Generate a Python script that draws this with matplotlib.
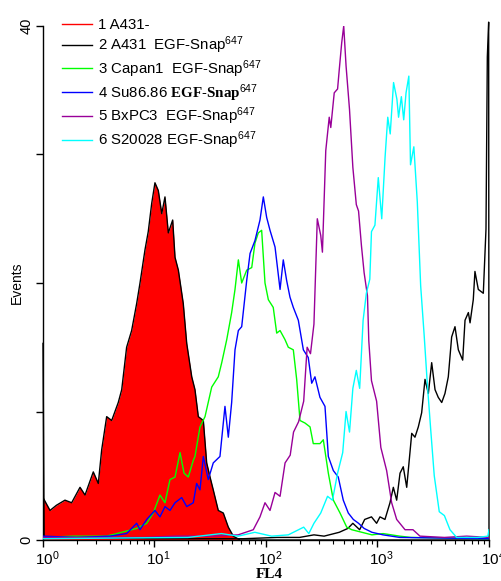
import numpy as np
import matplotlib
matplotlib.use("Agg")
from matplotlib import pyplot as plt
from matplotlib.lines import Line2D
from matplotlib.transforms import ScaledTranslation

plt.rcParams['font.family'] = ['Liberation Sans', 'DejaVu Sans']
plt.rcParams['mathtext.fontset'] = 'custom'
plt.rcParams['mathtext.rm'] = 'Liberation Sans'
plt.rcParams['mathtext.bf'] = 'Liberation Serif:bold'
plt.rcParams['mathtext.default'] = 'regular'

# histogram outlines: channel position in decades (log10 FL4) and events
red_log = [0.0, 0.063, 0.12, 0.197, 0.257, 0.332, 0.377, 0.451, 0.496, 0.526, 0.571, 0.616, 0.675,
           0.706, 0.75, 0.795, 0.84, 0.87, 0.915, 0.944, 0.975, 1.004, 1.034, 1.065, 1.094, 1.124,
           1.163, 1.184, 1.214, 1.258, 1.289, 1.334, 1.363, 1.393, 1.438, 1.468, 1.498, 1.527,
           1.572, 1.617, 1.662, 1.707, 1.767, 4.0]
red_ev = [3.3, 2.3, 2.7, 3.1, 2.9, 4.1, 3.5, 5.3, 4.4, 7.0, 9.6, 9.3, 10.7,
          11.7, 15.0, 16.3, 18.4, 20.0, 22.6, 24.0, 26.2, 27.8, 27.2, 25.4, 26.7, 23.9,
          24.9, 22.0, 21.0, 18.4, 15.3, 12.7, 11.7, 9.6, 9.3, 6.0, 4.9, 3.9,
          2.3, 2.1, 1.0, 0.3, 0.0, 0.0]

black_log = [0.0, 0.01, 1.0, 1.8, 2.1, 2.3, 2.43, 2.521, 2.657, 2.734, 2.779, 2.84, 2.885, 2.946,
             2.992, 3.022, 3.067, 3.112, 3.142, 3.172, 3.202, 3.231, 3.262, 3.291, 3.307, 3.336,
             3.366, 3.396, 3.426, 3.456, 3.486, 3.516, 3.545, 3.576, 3.605, 3.635, 3.665, 3.695,
             3.725, 3.764, 3.785, 3.815, 3.83, 3.859, 3.874, 3.904, 3.949, 3.973, 3.985, 3.997, 4.0]
black_ev = [15.3, 0.2, 0.1, 0.1, 0.2, 0.2, 0.4, 0.3, 0.6, 0.9, 1.3, 0.8, 1.6, 1.8,
            1.3, 1.8, 1.6, 2.9, 4.1, 3.1, 5.2, 5.7, 4.1, 6.8, 8.3, 8.0,
            8.8, 9.9, 12.5, 11.4, 13.8, 11.7, 11.1, 10.7, 11.4, 12.7, 15.8, 16.6,
            14.8, 14.0, 17.1, 17.7, 16.9, 18.7, 20.9, 19.5, 19.2, 24.2, 37.6, 40.3, 0.0]

green_log = [0.0, 0.272, 0.571, 0.661, 0.84, 0.93, 0.989, 1.049, 1.094, 1.139, 1.184, 1.229, 1.265,
             1.303, 1.348, 1.363, 1.408, 1.453, 1.513, 1.572, 1.603, 1.648, 1.692, 1.722, 1.752,
             1.782, 1.827, 1.872, 1.901, 1.931, 1.961, 1.991, 2.021, 2.065, 2.096, 2.126, 2.17,
             2.2, 2.245, 2.275, 2.305, 2.35, 2.395, 2.424, 2.484, 2.514, 2.559, 2.604, 2.664,
             2.724, 2.769, 2.86, 2.95, 3.05, 3.2, 3.3, 4.0]
green_ev = [0.2, 0.3, 0.3, 0.5, 0.9, 1.3, 2.1, 3.5, 2.9, 4.7, 4.9, 6.8, 5.2,
            4.9, 6.2, 6.5, 8.8, 9.6, 11.9, 12.7, 13.8, 15.6, 17.7, 19.5, 21.8,
            20.0, 21.0, 21.2, 23.1, 23.9, 24.1, 20.0, 18.7, 18.1, 16.1, 16.3, 15.6,
            15.0, 14.8, 12.5, 9.3, 9.1, 8.8, 7.5, 7.5, 7.8, 5.2, 3.1, 2.1,
            1.0, 0.8, 0.6, 0.4, 0.5, 0.3, 0.2, 0.1]

blue_log = [0.0, 0.3, 0.6, 0.75, 0.84, 0.87, 0.93, 1.004, 1.049, 1.094, 1.139, 1.184, 1.244, 1.289,
            1.348, 1.378, 1.408, 1.438, 1.482, 1.527, 1.587, 1.632, 1.662, 1.692, 1.722, 1.752,
            1.782, 1.827, 1.857, 1.901, 1.946, 1.976, 2.006, 2.036, 2.081, 2.126, 2.155, 2.185,
            2.215, 2.245, 2.29, 2.335, 2.379, 2.41, 2.439, 2.484, 2.529, 2.559, 2.604, 2.648,
            2.693, 2.738, 2.783, 2.83, 2.88, 2.95, 3.0, 3.05, 3.2, 4.0]
blue_ev = [0.3, 0.2, 0.3, 0.5, 1.3, 0.8, 1.6, 2.3, 1.8, 2.6, 2.3, 2.9, 3.3, 2.6,
           2.9, 4.4, 3.9, 6.5, 4.7, 6.0, 6.5, 10.4, 8.0, 10.7, 14.8, 16.3,
           16.6, 20.2, 22.3, 23.3, 24.9, 26.7, 25.1, 24.1, 22.8, 19.5, 21.8, 20.2,
           18.9, 18.1, 17.1, 14.8, 14.2, 12.2, 12.7, 11.1, 10.4, 6.5, 5.4, 4.9,
           3.1, 2.1, 1.6, 1.3, 0.9, 0.6, 0.5, 0.4, 0.2, 0.1]

purple_log = [0.0, 0.9, 1.2, 1.5, 1.75, 1.886, 1.946, 1.991, 2.036, 2.081, 2.126, 2.171, 2.217,
              2.247, 2.292, 2.338, 2.369, 2.399, 2.43, 2.46, 2.491, 2.506, 2.536, 2.567, 2.581,
              2.612, 2.642, 2.657, 2.679, 2.697, 2.718, 2.749, 2.779, 2.81, 2.83, 2.856, 2.88,
              2.91, 2.922, 2.946, 2.992, 3.03, 3.082, 3.127, 3.172, 3.247, 3.318, 3.381, 3.6,
              3.8, 4.0]
purple_ev = [0.2, 0.2, 0.3, 0.3, 0.4, 0.8, 1.8, 2.9, 2.3, 3.7, 3.4, 6.0, 6.6,
             8.4, 9.2, 10.8, 15.0, 14.5, 16.8, 25.0, 23.7, 22.4, 30.3, 32.9, 32.1,
             34.8, 35.1, 36.6, 38.7, 40.0, 36.9, 33.5, 29.0, 26.1, 25.6, 22.9, 20.8,
             19.0, 15.5, 12.4, 10.8, 7.2, 5.4, 2.9, 1.6, 0.8, 0.8, 0.3, 0.2,
             0.3, 0.2]

cyan_log = [0.0, 1.3, 1.6, 1.75, 1.9, 2.05, 2.2, 2.338, 2.384, 2.43, 2.491, 2.552, 2.596, 2.642,
            2.688, 2.718, 2.749, 2.779, 2.81, 2.84, 2.871, 2.9, 2.931, 2.946, 2.977, 3.007,
            3.038, 3.068, 3.092, 3.114, 3.144, 3.174, 3.189, 3.214, 3.235, 3.256, 3.281, 3.296,
            3.326, 3.357, 3.387, 3.418, 3.448, 3.478, 3.509, 3.554, 3.6, 3.65, 3.71, 3.9,
            3.99, 4.0]
cyan_ev = [0.1, 0.2, 0.5, 0.3, 0.6, 0.3, 0.4, 1.0, 0.5, 1.3, 2.1, 3.4, 3.1, 5.2,
           6.8, 10.0, 8.4, 11.8, 13.2, 11.8, 17.1, 19.2, 20.3, 24.0, 24.5, 28.2,
           25.0, 29.8, 32.9, 31.6, 35.6, 34.3, 32.9, 34.5, 32.7, 34.8, 36.1, 29.2,
           30.6, 26.3, 19.8, 16.0, 12.0, 8.5, 5.0, 2.2, 1.9, 0.8, 0.2, 0.2,
           0.3, 0.8]

labels = ["1 A431-",
          "2 A431  EGF-Snap$^{647}$",
          "3 Capan1  EGF-Snap$^{647}$",
          r"4 Su86.86 $\mathbf{EGF}$-$\mathbf{Snap}^{647}$",
          "5 BxPC3  EGF-Snap$^{647}$",
          "6 S20028 EGF-Snap$^{647}$"]
colors = ['#ff0000', '#000000', '#00ff00', '#0000ff', '#990099', '#00ffff']

fig = plt.figure(figsize=(5.02, 5.81), dpi=100)
ax = fig.add_axes([43 / 502, 41 / 581, 446 / 502, 514 / 581])

x = 10 ** np.array(red_log)
ax.fill_between(x, red_ev, 0, color=colors[0], lw=0, zorder=1)
ax.plot(x, red_ev, color='black', lw=1.0, zorder=2)

curves = [(black_log, black_ev), (green_log, green_ev), (blue_log, blue_ev),
          (purple_log, purple_ev), (cyan_log, cyan_ev)]
for i, (lg, ev) in enumerate(curves):
    ax.plot(10 ** np.array(lg), ev, color=colors[i + 1], lw=1.0, zorder=3 + i,
            clip_on=(i != 0))

ax.set_xscale('log')
ax.set_xlim(1, 1e4)
ax.set_ylim(0, 40)
ax.spines['top'].set_visible(False)
ax.spines['right'].set_visible(False)
ax.spines['left'].set_linewidth(1.0)
ax.spines['bottom'].set_linewidth(1.0)

ax.set_yticks([0, 10, 20, 30, 40])
ax.set_yticklabels(['0', '', '', '', '40'], rotation=90, va='center')
ax.tick_params(axis='y', length=5, width=1, pad=2, labelsize=10.5)
ax.tick_params(axis='x', which='major', length=5, width=1, pad=2, labelsize=11)
ax.tick_params(axis='x', which='minor', length=3, width=0.8)

# the "10" sits on the tick, the exponent hangs to the right
fig.canvas.draw()
shift = ScaledTranslation(4 / 100, 0, fig.dpi_scale_trans)
for lab in ax.get_xticklabels():
    lab.set_transform(lab.get_transform() + shift)

fig.text(17 / 502, 1 - 283 / 581, 'Events', rotation=90, ha='center', va='center', fontsize=10)
fig.text(269 / 502, 1 - 574 / 581, 'FL4', ha='center', va='center', fontsize=11,
         family='Liberation Serif', weight='bold')

handles = [Line2D([], [], color=c, lw=1.0) for c in colors]
ax.legend(handles, labels, loc='upper left', bbox_to_anchor=(62 / 502, 1 - 18 / 581),
          bbox_transform=fig.transFigure, frameon=False, fontsize=10.8, borderpad=0,
          borderaxespad=0, handlelength=2.0, handletextpad=0.4, labelspacing=0.15)

fig.savefig('out.png', dpi=100)
